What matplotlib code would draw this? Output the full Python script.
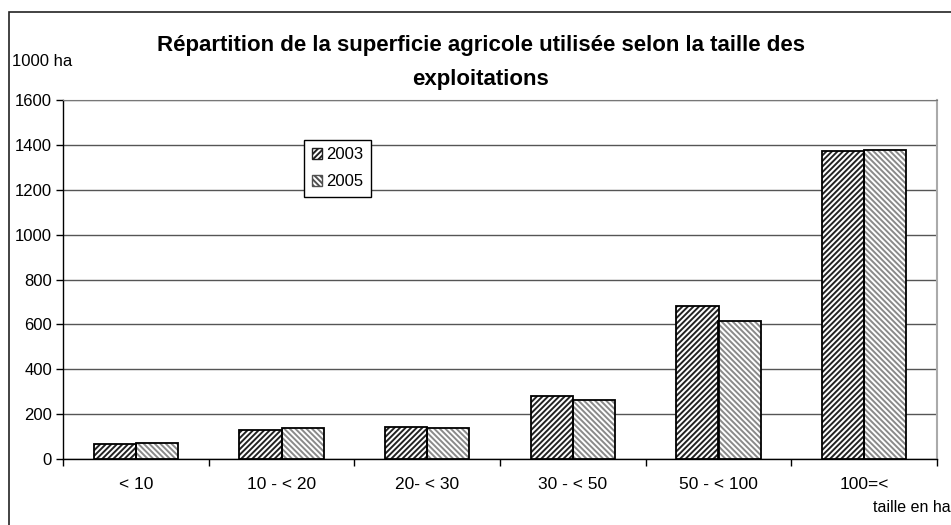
import numpy as np
import matplotlib
matplotlib.use("Agg")
from matplotlib import pyplot as plt
from matplotlib.patches import Patch, Rectangle

plt.rcParams['font.family'] = ['Liberation Sans', 'DejaVu Sans']
plt.rcParams['hatch.linewidth'] = 1.4

# data (1000 ha)
categories = ['< 10', '10 - < 20', '20- < 30', '30 - < 50', '50 - < 100', '100=<']
val_2003 = [65, 131, 144, 279, 680, 1371]
val_2005 = [73, 137, 137, 263, 616, 1379]
yticks = [0, 200, 400, 600, 800, 1000, 1200, 1400, 1600]

fig = plt.figure(figsize=(9.51, 5.25), dpi=100)
ax = fig.add_axes([63/951, 66/525, 874/951, 359/525])

x = np.arange(len(categories))
w = 0.29

# hatch fill first (hatch colour comes from edgecolor), black outline on top
ax.bar(x - w/2, val_2003, w, facecolor='white', edgecolor='#222222', hatch='//////', linewidth=0, zorder=3)
ax.bar(x + w/2, val_2005, w, facecolor='white', edgecolor='#8a8a8a', hatch='\\\\\\\\\\\\', linewidth=0, zorder=3)
ax.bar(x - w/2, val_2003, w, fill=False, edgecolor='black', linewidth=1.3, zorder=4)
ax.bar(x + w/2, val_2005, w, fill=False, edgecolor='black', linewidth=1.3, zorder=4)

ax.set_xlim(-0.5, len(categories) - 0.5)
ax.set_ylim(0, 1600)
ax.set_yticks(yticks)
ax.set_xticks(x)
ax.set_xticklabels(categories)
ax.set_xticks(np.arange(len(categories) + 1) - 0.5, minor=True)
ax.tick_params(axis='x', which='major', length=0, pad=13, labelsize=12.5)
ax.tick_params(axis='x', which='minor', length=5, width=1, direction='out')
ax.tick_params(axis='y', length=5, width=1, direction='out', pad=3, labelsize=12)

ax.yaxis.grid(True, color='#555555', linewidth=1)
ax.set_axisbelow(True)
for s in ['left', 'bottom']:
    ax.spines[s].set_color('black')
    ax.spines[s].set_linewidth(1)
ax.spines['top'].set_color('#777777')
ax.spines['right'].set_color('#aaaaaa')
ax.spines['right'].set_linewidth(1.5)

handles = [Patch(facecolor='white', edgecolor='#202020', hatch='//////', label='2003'),
           Patch(facecolor='white', edgecolor='#505050', hatch='\\\\\\\\\\\\', label='2005')]
leg = ax.legend(handles=handles, loc='upper left', bbox_to_anchor=(304/951, 1 - 140/525),
                bbox_transform=fig.transFigure, fancybox=False, framealpha=1,
                edgecolor='black', fontsize=12, handlelength=0.6, handleheight=0.6,
                handletextpad=0.3, borderpad=0.45, labelspacing=0.7, borderaxespad=0)
leg.get_frame().set_linewidth(1)

fig.text(481/951, 1 - 62.5/525, 'Répartition de la superficie agricole utilisée selon la taille des\nexploitations',
         ha='center', va='center', fontsize=16, fontweight='bold', linespacing=1.85)
fig.text(12/951, 1 - 61/525, '1000 ha', ha='left', va='center', fontsize=12)
fig.text(873/951, 1 - 507/525, 'taille en ha', ha='left', va='center', fontsize=11.5)

# outer chart frame (runs past right and bottom edges)
fig.patches.append(Rectangle((9/951, -0.1), 1.2, 1 - 12/525 + 0.1, transform=fig.transFigure,
                             fill=False, edgecolor='#222222', linewidth=1.2))

fig.savefig('out.png', dpi=100)
